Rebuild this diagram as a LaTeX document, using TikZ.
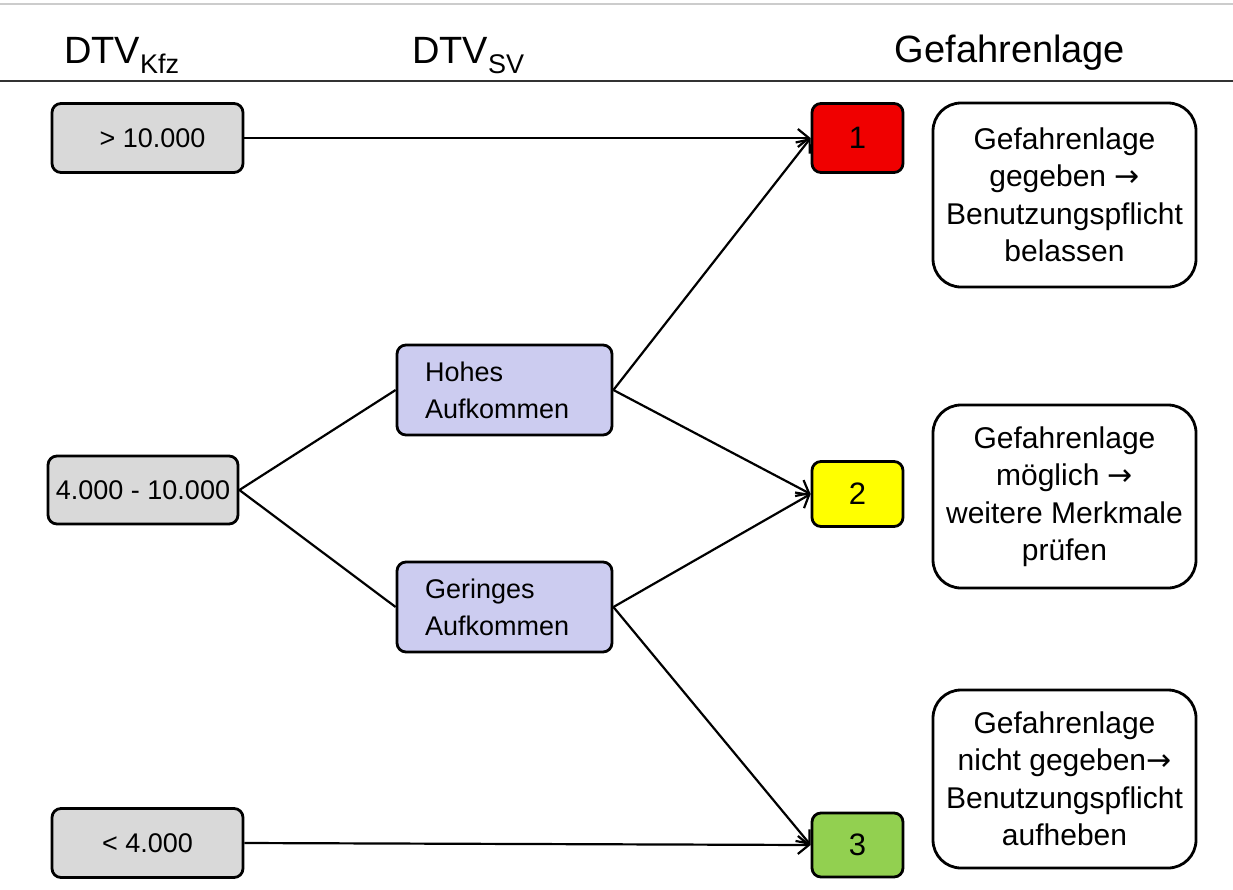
\documentclass[tikz,border=0pt]{standalone}
\usepackage{fontspec}
\setmainfont{Liberation Sans}
\newfontfamily\arrfont{DejaVu Sans}
\usetikzlibrary{arrows.meta}
\definecolor{boxgray}{RGB}{217,217,217}
\definecolor{lav}{RGB}{204,204,240}
\definecolor{nred}{RGB}{240,0,0}
\definecolor{nyellow}{RGB}{255,255,0}
\definecolor{ngreen}{RGB}{146,208,80}
\newcommand{\bigarr}{{\arrfont →}}
\tikzset{
  box/.style={draw, line width=2.8pt, rounded corners=9pt, inner sep=0pt,
    minimum width=191pt, minimum height=69pt, font=\fontsize{27}{32}\selectfont},
  kfz/.style={box, fill=boxgray},
  sv/.style={box, fill=lav, minimum width=215pt, minimum height=90pt,
    text width=159pt, align=left, font=\fontsize{27}{37}\selectfont},
  num/.style={box, minimum width=91pt, font=\fontsize{31}{36}\selectfont},
  note/.style={draw, line width=2.8pt, rounded corners=28pt, inner sep=0pt,
    minimum width=263pt, align=center, font=\fontsize{30}{37.5}\selectfont},
  head/.style={inner sep=0pt, font=\fontsize{38}{44}\selectfont},
  conn/.style={line width=2.2pt},
  arr/.style={conn, -{Straight Barb[length=11pt,width=18pt,line width=2.2pt]}}
}
\begin{document}
\begin{tikzpicture}[x=1pt,y=-1pt]
\useasboundingbox (0,0) rectangle (1233,889);
\fill[white] (0,0) rectangle (1233,889);
\coordinate (tl) at (0,4);
\coordinate (tr) at (1233,4);
\coordinate (sl) at (0,81);
\coordinate (sr) at (1233,81);
\draw[gray!40, line width=1.5pt] (tl) -- (tr);
\draw[black!80, line width=2.5pt] (sl) -- (sr);

\node[head, anchor=base west] (hk) at (64,63) {DTV\raisebox{-10pt}{\fontsize{27}{27}\selectfont Kfz}};
\node[head, anchor=base west] (hs) at (412,63) {DTV\raisebox{-10pt}{\fontsize{27}{27}\selectfont SV}};
\node[head, anchor=base] (hg) at (1010,62) {Gefahrenlage};

\node[kfz] (k1) at (147.5,138) {\hspace*{10pt}> 10.000};
\node[kfz, minimum width=190pt, minimum height=68pt] (k2) at (143,490) {4.000 - 10.000};
\node[kfz] (k3) at (147.5,843) {< 4.000};

\node[sv] (h) at (504.5,390) {Hohes\\Aufkommen};
\node[sv] (g) at (504.5,607) {Geringes\\Aufkommen};

\node[num, fill=nred, minimum height=69pt] (n1) at (857.5,138) {1};
\node[num, fill=nyellow, minimum height=65pt] (n2) at (857.5,494) {2};
\node[num, fill=ngreen, minimum height=64pt] (n3) at (857.5,845) {3};

\node[note, minimum height=184pt] (r1) at (1064.5,195) {Gefahrenlage\\gegeben \bigarr\\Benutzungspflicht\\belassen};
\node[note, minimum height=183pt] (r2) at (1064.5,496.5) {Gefahrenlage\\möglich \bigarr\\weitere Merkmale\\prüfen};
\node[note, minimum height=178pt] (r3) at (1064.5,779) {Gefahrenlage\\nicht gegeben\bigarr\\Benutzungspflicht\\aufheben};

\draw[arr] (k1.east) -- (n1.west);
\draw[conn] (k2.east) -- (h.west);
\draw[conn] (k2.east) -- (g.west);
\draw[arr] (h.east) -- (n1.west);
\draw[arr] (h.east) -- (n2.west);
\draw[arr] (g.east) -- (n2.west);
\draw[arr] (g.east) -- (n3.west);
\draw[arr] (k3.east) -- (n3.west);
\end{tikzpicture}
\end{document}
